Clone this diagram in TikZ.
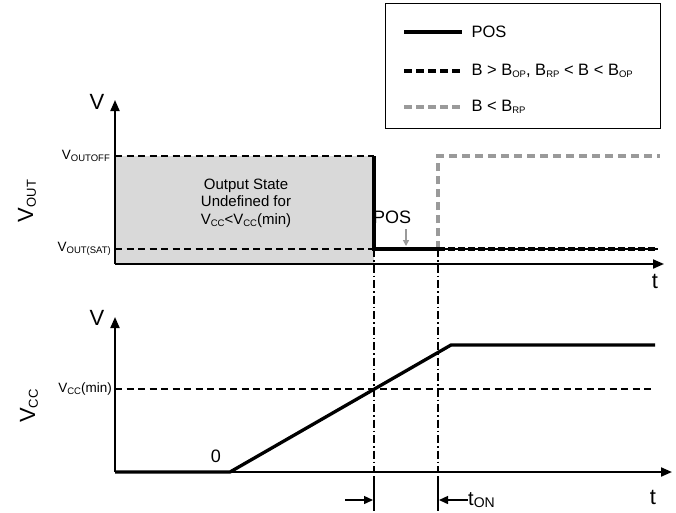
\documentclass[tikz,border=0pt]{standalone}
\usepackage{fontspec}
\setmainfont{Liberation Sans}
\usetikzlibrary{arrows.meta}
\definecolor{areagray}{HTML}{D9D9D9}
\definecolor{midgray}{HTML}{9A9A9A}
\newcommand\sbs[1]{\raisebox{-0.25ex}{\fontsize{9.5}{9.5}\selectfont #1}}
\begin{document}
\begin{tikzpicture}[x=1pt,y=-1pt,
  axis/.style={line width=2pt,-{Triangle[length=11pt,width=9pt]}},
  thin dash/.style={line width=1.4pt,dash pattern=on 7pt off 4.5pt},
  sig/.style={line width=3.3pt},
  sigdash/.style={line width=3.3pt,dash pattern=on 7pt off 3pt},
  graydash/.style={line width=3.3pt,midgray,dash pattern=on 8pt off 5pt},
  marker/.style={line width=1.2pt,dash pattern=on 8pt off 3pt on 1.5pt off 3pt},
  tick/.style={line width=1.4pt},
  big/.style={font=\fontsize{22}{22}\selectfont},
  lbl/.style={font=\fontsize{13.5}{15}\selectfont},
  leg/.style={font=\fontsize{16.5}{18}\selectfont,anchor=west}]
\useasboundingbox (0,0) rectangle (676,512);
% coordinates
\coordinate (o1) at (115,264);
\coordinate (o1y) at (115,100);
\coordinate (o1x) at (664,264);
\coordinate (o2) at (115,472);
\coordinate (o2y) at (115,317);
\coordinate (o2x) at (672,472);
\coordinate (offL) at (115,156);
\coordinate (offR) at (374,156);
\coordinate (satL) at (115,249);
\coordinate (satR) at (374,249);
\coordinate (ton) at (438,249);
\coordinate (tonTop) at (438,156);
\coordinate (endOff) at (660,156);
\coordinate (endSat) at (658,249);
\coordinate (m1a) at (374,472);
\coordinate (m2a) at (438,472);
\coordinate (m1b) at (374,476);
\coordinate (m1c) at (374,511);
\coordinate (m2b) at (438,476);
\coordinate (m2c) at (438,511);
\coordinate (r0) at (230,472);
\coordinate (r1) at (451,345);
\coordinate (r2) at (655,345);
\coordinate (vminL) at (115,389);
\coordinate (vminR) at (655,389);
% shaded region
\fill[areagray] (offL) rectangle (o1 -| offR);
% reference levels
\draw[thin dash] (offL) -- (offR);
\draw[thin dash] (satL) -- (satR);
\draw[thin dash] (vminL) -- (vminR);
% markers
\draw[marker] (satR) -- (m1a);
\draw[marker] (ton) -- (m2a);
\draw[tick] (m1b) -- (m1c);
\draw[tick] (m2b) -- (m2c);
% signals
\draw[graydash] (ton) -- (tonTop) -- (endOff);
\draw[line width=1.2pt] (ton) -- (endSat);
\draw[sigdash] (ton) -- (endSat);
\draw[sig,line join=miter] (offR) -- (satR) -- (ton);
\draw[sig] (o2) -- (r0) -- (r1) -- (r2);
% axes
\draw[axis] (o1) -- (o1y);
\draw[axis] (o1) -- (o1x);
\draw[axis] (o2) -- (o2y);
\draw[axis] (o2) -- (o2x);
% labels
\node[big] (v1) at (97,102) {V};
\node[big] (t1) at (655,281) {t};
\node[big] (v2) at (97,318) {V};
\node[big] (t2) at (653,497) {t};
\node[big,rotate=90] (vout) at (27,201) {V\sbs{\fontsize{13}{13}\selectfont OUT}};
\node[big,rotate=90] (vcc) at (29,406) {V\sbs{\fontsize{13}{13}\selectfont CC}};
\node[lbl,anchor=east,inner sep=1pt] (loff) at (111,156) {V\sbs{OUTOFF}};
\node[lbl,anchor=east,inner sep=1pt] (lsat) at (112,249) {V\sbs{OUT(SAT)}};
\node[lbl,anchor=east,inner sep=1pt] (lmin) at (113,389) {V\sbs{CC}(min)};
\node[font=\fontsize{15}{17.5}\selectfont,align=center] (undef) at (246,203)
  {Output State\\Undefined for\\V\sbs{CC}<V\sbs{CC}(min)};
\node[font=\fontsize{18}{18}\selectfont] (pos) at (392,217) {POS};
\draw[midgray,line width=1.3pt,-{Triangle[length=6pt,width=6pt]}] (406,229) -- (406,246);
\node[font=\fontsize{18}{18}\selectfont] (zero) at (216,456) {0};
% t_ON arrows
\coordinate (a1s) at (345,500);
\coordinate (a1e) at (373,500);
\coordinate (a2s) at (468,500);
\coordinate (a2e) at (439,500);
\draw[line width=1.4pt,-{Triangle[length=9pt,width=8pt]}] (a1s) -- (a1e);
\draw[line width=1.4pt,-{Triangle[length=9pt,width=8pt]}] (a2s) -- (a2e);
\node[font=\fontsize{20}{20}\selectfont,anchor=west,inner sep=1pt] (tonl) at (467,500) {t\sbs{\fontsize{14}{14}\selectfont ON}};
% legend
\node[draw,line width=0.8pt,minimum width=275pt,minimum height=125pt,anchor=north west,inner sep=0pt] (legend) at (385,3) {};
\coordinate (l1a) at (404,32); \coordinate (l1b) at (462,32);
\coordinate (l2a) at (404,71); \coordinate (l2b) at (462,71);
\coordinate (l3a) at (404,107); \coordinate (l3b) at (462,107);
\draw[sig] (l1a) -- (l1b);
\draw[sigdash,dash pattern=on 8pt off 4pt] (l2a) -- (l2b);
\draw[graydash,dash pattern=on 8pt off 4pt] (l3a) -- (l3b);
\node[leg] (lg1) at (468,32) {POS};
\node[leg] (lg2) at (468,71) {B > B\sbs{OP}, B\sbs{RP} < B < B\sbs{OP}};
\node[leg] (lg3) at (468,107) {B < B\sbs{RP}};
\end{tikzpicture}
\end{document}
